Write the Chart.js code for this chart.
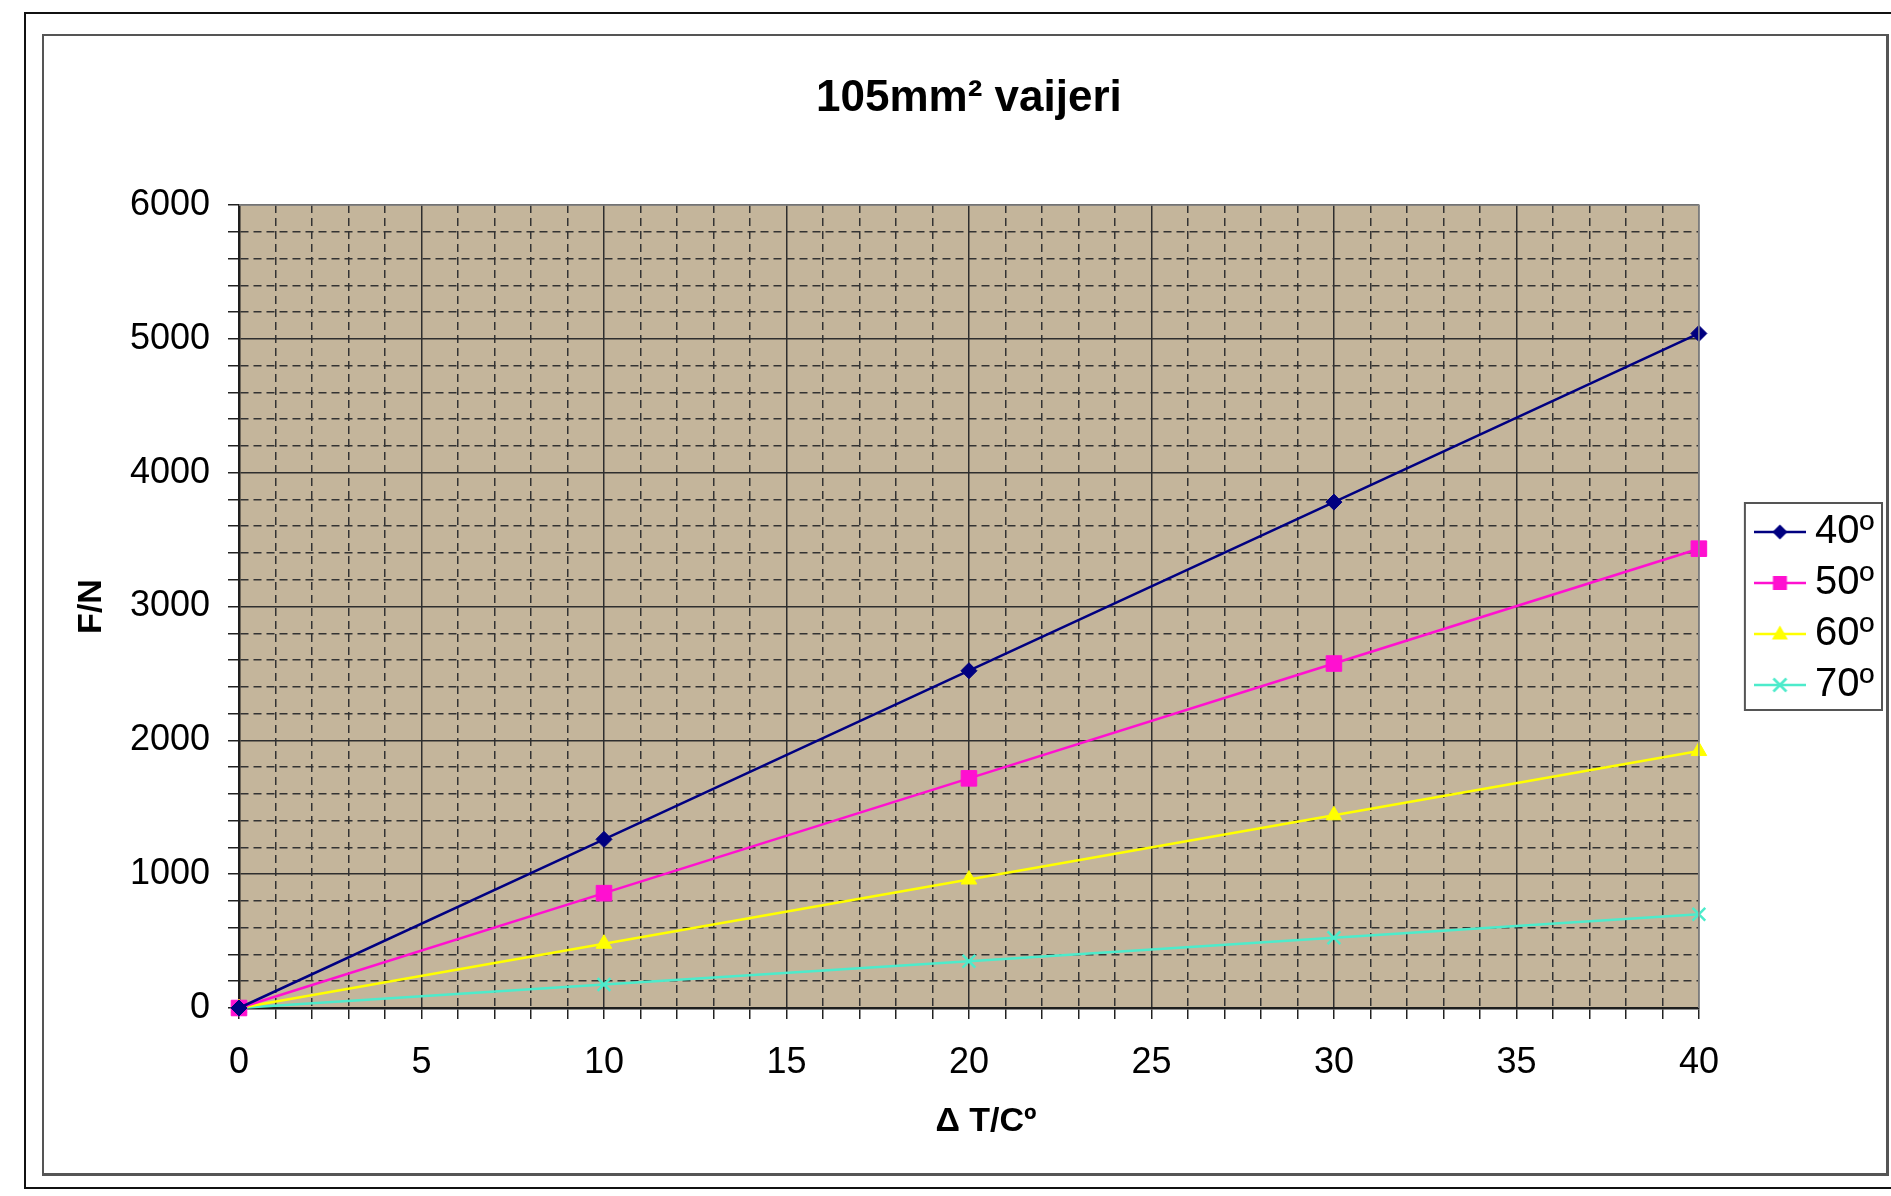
<!DOCTYPE html>
<html>
<head>
<meta charset="utf-8">
<title>105mm² vaijeri</title>
<script src="https://cdn.jsdelivr.net/npm/chart.js@4.4.1/dist/chart.umd.min.js"></script>
<style>
	html, body {
		margin: 0;
		padding: 0;
		background: #fff;
		overflow: hidden;
	}
	#outer {
		position: absolute;
		left: 24px;
		top: 12px;
		width: 1900px;
		height: 1177px;
		border: 2px solid #111;
		box-sizing: border-box;
	}
	#inner {
		position: absolute;
		left: 42px;
		top: 34px;
		width: 1847px;
		height: 1142px;
		border: 2px solid #555;
		border-right-width: 3px;
		border-bottom-width: 3px;
		box-sizing: border-box;
	}
	#FChart {
		position: absolute;
		left: 0;
		top: 0;
	}
</style>
</head>
<body>
<div id="outer"></div>
<div id="inner"></div>
<canvas id="FChart" width="1891" height="1196"></canvas>
<script>
// ΔT values (x) and force F/N for each angle
const deltaT = [0, 10, 20, 30, 40];
const f40 = [0, 1260, 2520, 3780, 5040];
const f50 = [0, 858, 1716, 2574, 3432];
const f60 = [0, 480, 960, 1440, 1920];
const f70 = [0, 175, 350, 525, 700];
const seriesNames = ["40º", "50º", "60º", "70º"];
const xTicks = [0, 5, 10, 15, 20, 25, 30, 35, 40];
const yTicks = [0, 1000, 2000, 3000, 4000, 5000, 6000];

const FONT = "'Liberation Sans', Arial, sans-serif";
const colors = ["#000080", "#ff10d0", "#ffff00", "#4debcb"];
const styles = ["rectRot", "rect", "triangle", "crossRot"];
const radii = [8, 11, 9, 9];

function pts(vals) {
	return deltaT.map((x, i) => ({ x: x, y: vals[i] }));
}

// small line + marker picture for the legend
function legendIcon(color, style) {
	const c = document.createElement("canvas");
	c.width = 53;
	c.height = 22;
	const g = c.getContext("2d");
	g.strokeStyle = color;
	g.fillStyle = color;
	g.lineWidth = 2.5;
	g.beginPath();
	g.moveTo(0, 11);
	g.lineTo(53, 11);
	g.stroke();
	const cx = 26.5, cy = 11;
	g.beginPath();
	if (style === "rectRot") {
		g.moveTo(cx, cy - 7.5);
		g.lineTo(cx + 7.5, cy);
		g.lineTo(cx, cy + 7.5);
		g.lineTo(cx - 7.5, cy);
		g.closePath();
		g.fill();
	} else if (style === "rect") {
		g.rect(cx - 7, cy - 7, 14, 14);
		g.fill();
	} else if (style === "triangle") {
		g.moveTo(cx, cy - 8.5);
		g.lineTo(cx + 8, cy + 5.5);
		g.lineTo(cx - 8, cy + 5.5);
		g.closePath();
		g.fill();
	} else {
		g.moveTo(cx - 6.5, cy - 6.5);
		g.lineTo(cx + 6.5, cy + 6.5);
		g.moveTo(cx + 6.5, cy - 6.5);
		g.lineTo(cx - 6.5, cy + 6.5);
		g.stroke();
	}
	return c;
}

const plotFrame = {
	id: "plotFrame",
	beforeDraw(chart) {
		const a = chart.chartArea;
		const c = chart.ctx;
		c.save();
		c.fillStyle = "#c4b59b";
		c.fillRect(a.left, a.top, a.right - a.left, a.bottom - a.top);
		c.restore();
	},
	afterDraw(chart) {
		const a = chart.chartArea;
		const c = chart.ctx;
		c.save();
		c.strokeStyle = "#8a8a8a";
		c.lineWidth = 1.5;
		c.beginPath();
		c.moveTo(a.left, a.top);
		c.lineTo(a.right, a.top);
		c.lineTo(a.right, a.bottom);
		c.stroke();
		// frame round the legend
		const boxes = chart.legend.legendHitBoxes;
		if (boxes && boxes.length) {
			let l = Infinity, t = Infinity, r = -Infinity, b = -Infinity;
			boxes.forEach((h) => {
				l = Math.min(l, h.left);
				t = Math.min(t, h.top);
				r = Math.max(r, h.left + h.width);
				b = Math.max(b, h.top + h.height);
			});
			c.strokeStyle = "#555";
			c.lineWidth = 2;
			c.strokeRect(l - 20, t - 9, r - l + 28, b - t + 14);
		}
		c.restore();
	},
};

const ctx1 = document.getElementById("FChart");
const myChart1 = new Chart(ctx1, {
	type: "line",
	data: {
		datasets: [f40, f50, f60, f70].map((vals, i) => ({
			label: seriesNames[i],
			data: pts(vals),
			borderColor: colors[i],
			backgroundColor: colors[i],
			borderWidth: 2.5,
			pointStyle: styles[i],
			pointRadius: radii[i],
			pointBorderWidth: i === 3 ? 2.5 : 1,
			pointBackgroundColor: colors[i],
			pointBorderColor: colors[i],
			tension: 0,
			clip: false,
		})),
	},
	options: {
		responsive: false,
		animation: false,
		layout: {
			padding: { left: 0, right: 7, top: 0, bottom: 0 },
		},
		plugins: {
			title: {
				display: true,
				fullSize: false,
				text: "105mm² vaijeri",
				color: "#000",
				font: { family: FONT, size: 44, weight: "bold" },
				padding: { top: 72, bottom: 80.2 },
			},
			legend: {
				display: true,
				position: "right",
				title: {
					display: true,
					text: " ",
					font: { family: FONT, size: 10 },
					padding: 4.5,
				},
				labels: {
					color: "#000",
					font: { family: FONT, size: 40 },
					usePointStyle: true,
					pointStyleWidth: 30,
					padding: 11,
					generateLabels(chart) {
						return chart.data.datasets.map((ds, i) => ({
							text: ds.label,
							datasetIndex: i,
							hidden: false,
							fillStyle: colors[i],
							strokeStyle: colors[i],
							lineWidth: 0,
							fontColor: "#000",
							pointStyle: legendIcon(colors[i], styles[i]),
						}));
					},
				},
			},
			tooltip: { enabled: false },
		},
		scales: {
			x: {
				type: "linear",
				position: "bottom",
				min: 0,
				max: 40,
				afterFit(s) {
					s.height = 188;
				},
				ticks: {
					stepSize: 1,
					autoSkip: false,
					maxRotation: 0,
					padding: 22,
					color: "#000",
					font: { family: FONT, size: 36 },
					callback: (v) => (xTicks.includes(v) ? v : ""),
				},
				grid: {
					color: (c) => (c.tick && c.tick.value % 5 === 0 ? "#2e2e2e" : "#333"),
					lineWidth: 1.5,
					tickLength: 11,
					tickColor: "#222",
					tickWidth: 1.5,
				},
				border: {
					display: true,
					color: "#1e1e1e",
					width: 2.5,
					dash: (c) => (c.tick && c.tick.value % 5 === 0 ? [] : [8, 5]),
				},
				title: {
					display: true,
					text: "\u2003Δ T/Cº",
					color: "#000",
					font: { family: FONT, size: 34, weight: "bold" },
					padding: { top: 0, bottom: 53.6 },
				},
			},
			y: {
				type: "linear",
				position: "left",
				min: 0,
				max: 6000,
				afterFit(s) {
					s.width = 239;
				},
				ticks: {
					stepSize: 200,
					autoSkip: false,
					padding: 18,
					color: "#000",
					font: { family: FONT, size: 36 },
					callback: (v) => (yTicks.includes(v) ? v : ""),
				},
				grid: {
					color: (c) => (c.tick && c.tick.value % 1000 === 0 ? "#2e2e2e" : "#333"),
					lineWidth: 1.5,
					tickLength: 11,
					tickColor: "#222",
					tickWidth: 1.5,
				},
				border: {
					display: true,
					color: "#1e1e1e",
					width: 2.5,
					dash: (c) => (c.tick && c.tick.value % 1000 === 0 ? [] : [8, 5]),
				},
				title: {
					display: true,
					text: "F/N",
					color: "#000",
					font: { family: FONT, size: 34, weight: "bold" },
					padding: { top: 71, bottom: 0 },
				},
			},
			// empty room between plot and legend
			gap: {
				type: "linear",
				position: "right",
				display: true,
				afterFit(s) {
					s.width = 55;
				},
				ticks: { display: false },
				grid: { display: false, drawOnChartArea: false },
				border: { display: false },
			},
		},
	},
	plugins: [plotFrame],
});
</script>
</body>
</html>
